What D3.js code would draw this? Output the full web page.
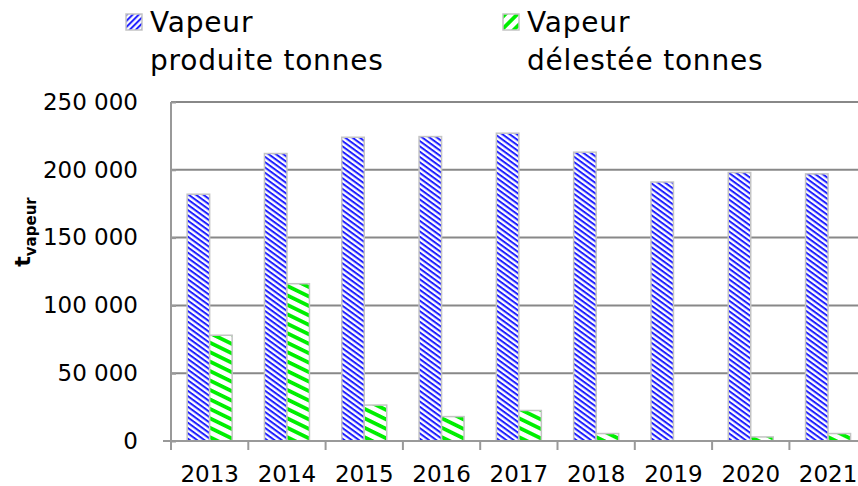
<!DOCTYPE html>
<html>
<head>
<meta charset="utf-8">
<script src="https://cdn.jsdelivr.net/npm/d3@7"></script>
<style>
  body { margin: 0; background: #fff; }
  text { font-family: "DejaVu Sans", sans-serif; fill: #000; }
</style>
</head>
<body>
<div id="chart"></div>
<script>
// Données
const years = ["2013", "2014", "2015", "2016", "2017", "2018", "2019", "2020", "2021"];
const vapeurProduite = [182000, 212000, 224000, 224500, 227000, 213000, 191000, 198000, 197000];
const vapeurDelestee = [78000, 116000, 26500, 18000, 22500, 5500, 0, 3000, 5500];
const seriesNames = ["Vapeur produite tonnes", "Vapeur délestée tonnes"];
const yTicks = [0, 50000, 100000, 150000, 200000, 250000];

const width = 858, height = 486;
const plotLeft = 171, plotBottom = 441, plotTop = 102;

const svg = d3.select("#chart")
  .append("svg")
  .attr("width", width)
  .attr("height", height);

// motifs hachurés
const defs = svg.append("defs");
function stripes(id, size, angle, color, sw) {
  const p = defs.append("pattern")
    .attr("id", id)
    .attr("patternUnits", "userSpaceOnUse")
    .attr("width", size)
    .attr("height", size)
    .attr("patternTransform", `rotate(${angle})`);
  p.append("rect").attr("width", size).attr("height", size).attr("fill", "#fff");
  p.append("rect").attr("y", 0).attr("width", size).attr("height", sw).attr("fill", color);
}
stripes("blue", 4.3, 36, "#1f1fff", 2);
stripes("green", 8.5, 26, "#00ee00", 3.8);
stripes("blueLeg", 4.3, -45, "#1f1fff", 2);
stripes("greenLeg", 8.5, -45, "#00ee00", 3.8);

const x0 = d3.scaleBand().domain(years).range([plotLeft, plotLeft + 9 * 77.3]);
const bw = 22.5;
const x1 = d3.scaleBand().domain([0, 1])
  .range([x0.bandwidth() / 2 - bw, x0.bandwidth() / 2 + bw]);
const y = d3.scaleLinear().domain([0, 250000]).range([plotBottom, plotTop]);

const fmt = d3.formatLocale({ decimal: ",", thousands: " ", grouping: [3], currency: ["", " €"] }).format(",");

// grille
svg.append("g")
  .selectAll("line")
  .data(yTicks.slice(1))
  .join("line")
  .attr("x1", plotLeft).attr("x2", width)
  .attr("y1", d => y(d)).attr("y2", d => y(d))
  .attr("stroke", "#888").attr("stroke-width", 2);

// axe Y
const yAxis = svg.append("g")
  .attr("transform", `translate(${plotLeft},0)`)
  .call(d3.axisLeft(y).tickValues(yTicks).tickFormat(fmt).tickSize(8).tickPadding(25));
yAxis.select(".domain").remove();
yAxis.selectAll(".tick line").attr("stroke", "#999").attr("stroke-width", 2).attr("x2", 5);
yAxis.selectAll("text").style("font-size", "23px").attr("fill", "#111");
svg.append("line")
  .attr("x1", plotLeft).attr("x2", plotLeft)
  .attr("y1", plotTop).attr("y2", plotBottom)
  .attr("stroke", "#999").attr("stroke-width", 2);

// barres
const data = [vapeurProduite, vapeurDelestee];
const fills = ["url(#blue)", "url(#green)"];
const groups = svg.append("g")
  .selectAll("g")
  .data(years)
  .join("g")
  .attr("transform", d => `translate(${x0(d)},0)`);
groups.selectAll("rect")
  .data((d, i) => data.map((s, k) => ({ k: k, v: s[i] })).filter(e => e.v > 0))
  .join("rect")
  .attr("x", d => x1(d.k))
  .attr("width", x1.bandwidth())
  .attr("y", d => y(d.v))
  .attr("height", d => y(0) - y(d.v))
  .attr("fill", d => fills[d.k])
  .attr("stroke", "#c4c4c4")
  .attr("stroke-width", 1.5);

// axe X
svg.append("line")
  .attr("x1", plotLeft - 8).attr("x2", width)
  .attr("y1", plotBottom).attr("y2", plotBottom)
  .attr("stroke", "#999").attr("stroke-width", 2);
svg.append("g")
  .selectAll("line")
  .data(years)
  .join("line")
  .attr("x1", d => x0(d)).attr("x2", d => x0(d))
  .attr("y1", plotBottom).attr("y2", plotBottom + 9)
  .attr("stroke", "#999").attr("stroke-width", 2);
const xAxis = svg.append("g")
  .attr("transform", `translate(0,${plotBottom})`)
  .call(d3.axisBottom(x0).tickSize(0).tickPadding(25));
xAxis.select(".domain").remove();
xAxis.selectAll("text").style("font-size", "23px").attr("fill", "#111");

// titre axe Y
const yl = svg.append("text")
  .attr("transform", "translate(30,232) rotate(-90)")
  .attr("text-anchor", "middle")
  .style("font-weight", "bold");
yl.append("tspan").style("font-size", "22px").text("t");
yl.append("tspan").style("font-size", "15px").attr("dy", 6).text("vapeur");

// légende
const legX = [126, 503];
const legFill = ["url(#blueLeg)", "url(#greenLeg)"];
seriesNames.forEach((name, i) => {
  svg.append("rect")
    .attr("x", legX[i]).attr("y", 14)
    .attr("width", 16).attr("height", 16)
    .attr("fill", legFill[i])
    .attr("stroke", "#c4c4c4").attr("stroke-width", 1.5);
  const words = name.split(" ");
  const t = svg.append("text")
    .attr("x", legX[i] + 24)
    .attr("y", 32)
    .style("font-size", "28px")
    .style("letter-spacing", "0.8px")
    .attr("fill", "#111");
  t.append("tspan").attr("x", legX[i] + 24).text(words[0]);
  t.append("tspan").attr("x", legX[i] + 24).attr("y", 70).text(words.slice(1).join(" "));
});
</script>
</body>
</html>
